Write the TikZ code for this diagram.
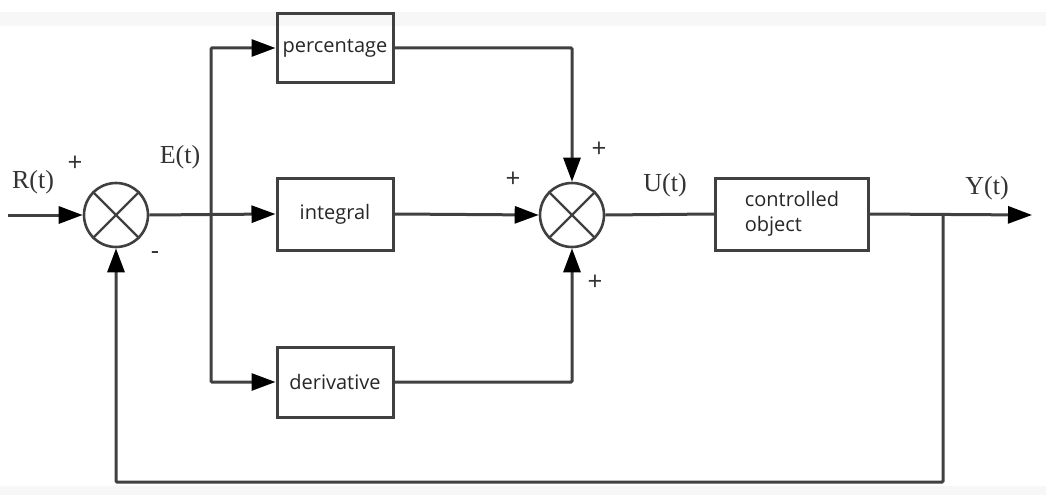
\documentclass[tikz,border=0pt]{standalone}
\usepackage{fontspec}
\setmainfont{Liberation Serif}
\newfontfamily\boxfont{Open Sans}
\usetikzlibrary{arrows.meta}
\begin{document}
\begin{tikzpicture}[x=1pt,y=-1pt,
  wire/.style={draw=black!75,line width=3pt},
  arr/.style={wire,-{Triangle[length=24pt,width=17pt,fill=black,color=black]}},
  sumj/.style={circle,draw=black!75,line width=2.6pt,minimum size=64pt,inner sep=0pt},
  blk/.style={draw=black!75,line width=3pt,inner sep=0pt,font=\boxfont\fontsize{20}{25}\selectfont,text=black!85},
  sig/.style={font=\fontsize{26}{28}\selectfont,text=black!80},
  sgn/.style={font=\boxfont\fontsize{26}{26}\selectfont,text=black!80}]
\useasboundingbox (0,0) rectangle (1046,495);
\fill[black!3] (0,12) rectangle (1046,26);
\fill[black!3] (0,486) rectangle (1046,495);
% nodes
\node[sumj] (s1) at (116,215) {};
\node[sumj] (s2) at (572,215) {};
\node[blk,minimum width=116pt,minimum height=69pt] (perc) at (335,48) {percentage};
\node[blk,minimum width=116pt,minimum height=72pt] (integ) at (335,214) {integral};
\node[blk,minimum width=116pt,minimum height=70pt] (deriv) at (335,382) {derivative};
\node[blk,minimum width=153pt,minimum height=72pt,align=left] (plant) at (792,214) {controlled\\object};
\coordinate (in) at (8,215);
\coordinate (out) at (1032,215);
\coordinate (bp) at (211,215);
\coordinate (fp) at (943,215);
\coordinate (fb) at (943,482);
% crosses
\foreach \s in {s1,s2}{
  \draw[black!75,line width=2.2pt] (\s.45) -- (\s.225) (\s.135) -- (\s.315);
}
% connectors
\draw[arr] (in) -- (s1.west);
\draw[arr] (s1.east) -- (integ.west);
\draw[arr,rounded corners=1pt] (bp) |- (perc.west);
\draw[arr,rounded corners=1pt] (bp) |- (deriv.west);
\draw[arr,rounded corners=1pt] (perc.east) -| (s2.north);
\draw[arr] (integ.east) -- (s2.west);
\draw[arr,rounded corners=1pt] (deriv.east) -| (s2.south);
\draw[wire] (s2.east) -- (plant.west);
\draw[arr] (plant.east) -- (out);
\draw[arr,rounded corners=1pt] (fp) -- (fb) -| (s1.south);
% labels
\node[sig] (lr) at (33,182) {R(t)};
\node[sgn] (p1) at (75,164) {+};
\node[sig] (le) at (180,157) {E(t)};
\node[sgn] (m1) at (155,256) {-};
\node[sgn] (p2) at (513,180) {+};
\node[sgn] (p3) at (599,150) {+};
\node[sgn] (p4) at (595,283) {+};
\node[sig] (lu) at (665,185) {U(t)};
\node[sig] (ly) at (987,188) {Y(t)};
\end{tikzpicture}
\end{document}
